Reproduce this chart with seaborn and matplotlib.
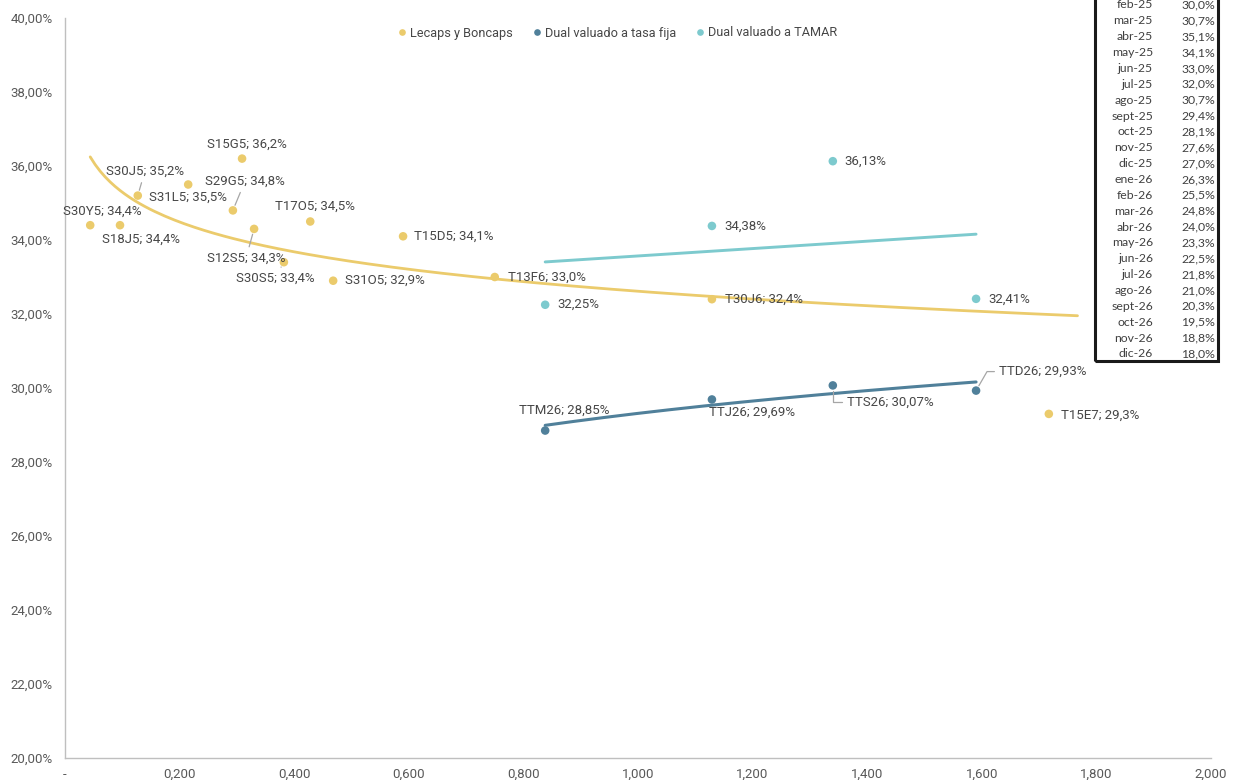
import numpy as np
import pandas as pd
import matplotlib
matplotlib.use("Agg")
import matplotlib.pyplot as plt
from matplotlib import font_manager
from matplotlib.patches import Rectangle
import seaborn as sns

# --- data -------------------------------------------------------------------
lecaps_names = ["S30Y5", "S18J5", "S30J5", "S31L5", "S15G5", "S29G5", "S12S5",
                "T17O5", "S30S5", "S31O5", "T15D5", "T13F6", "T30J6", "T15E7"]
lecaps_dur = [0.044, 0.096, 0.127, 0.215, 0.309, 0.293, 0.330,
              0.428, 0.382, 0.468, 0.590, 0.750, 1.129, 1.717]
lecaps_tir = [34.4, 34.4, 35.2, 35.5, 36.2, 34.8, 34.3,
              34.5, 33.4, 32.9, 34.1, 33.0, 32.4, 29.3]

dual_names = ["TTM26", "TTJ26", "TTS26", "TTD26"]
dual_dur = [0.838, 1.129, 1.340, 1.590]
dual_fija = [28.85, 29.69, 30.07, 29.93]
dual_tamar = [32.25, 34.38, 36.13, 32.41]

series_names = ["Lecaps y Boncaps", "Dual valuado a tasa fija", "Dual valuado a TAMAR"]

table_months = ["feb-25", "mar-25", "abr-25", "may-25", "jun-25", "jul-25", "ago-25",
                "sept-25", "oct-25", "nov-25", "dic-25", "ene-26", "feb-26", "mar-26",
                "abr-26", "may-26", "jun-26", "jul-26", "ago-26", "sept-26", "oct-26",
                "nov-26", "dic-26"]
table_rates = [30.0, 30.7, 35.1, 34.1, 33.0, 32.0, 30.7, 29.4, 28.1, 27.6, 27.0, 26.3,
               25.5, 24.8, 24.0, 23.3, 22.5, 21.8, 21.0, 20.3, 19.5, 18.8, 18.0]

y_ticks = [20, 22, 24, 26, 28, 30, 32, 34, 36, 38, 40]
x_ticks = [0.0, 0.2, 0.4, 0.6, 0.8, 1.0, 1.2, 1.4, 1.6, 1.8, 2.0]

# --- styling ----------------------------------------------------------------
YELLOW = "#EBCB6C"
DARK = "#50809A"
CYAN = "#7DCACE"
TEXT = "#595959"
LABEL = "#474747"
palette = dict(zip(series_names, [YELLOW, DARK, CYAN]))

sns.set_theme(style="white")
installed = {f.name for f in font_manager.fontManager.ttflist}
label_font = ["Roboto", "DejaVu Sans"]
narrow_font = ["Liberation Sans Narrow", "Roboto", "DejaVu Sans"]
narrow_font = [f for f in narrow_font if f in installed] or ["DejaVu Sans"]
table_font = ["Lato", "DejaVu Sans"]
plt.rcParams["font.family"] = label_font

def fmt_pct(v, decimals):
    return f"{v:.{decimals}f}%".replace(".", ",")

points = pd.DataFrame({
    "dur": lecaps_dur + dual_dur + dual_dur,
    "tir": lecaps_tir + dual_fija + dual_tamar,
    "serie": [series_names[0]] * len(lecaps_dur)
             + [series_names[1]] * len(dual_dur)
             + [series_names[2]] * len(dual_dur),
})

# trend lines: logarithmic for Lecaps and fixed-rate dual, linear for TAMAR
def log_trend(x, y, x_end):
    b, a = np.polyfit(np.log(x), y, 1)
    xs = np.linspace(min(x), x_end, 200)
    return xs, a + b * np.log(xs)

def lin_trend(x, y):
    b, a = np.polyfit(x, y, 1)
    xs = np.linspace(min(x), max(x), 50)
    return xs, a + b * xs

tx1, ty1 = log_trend(np.array(lecaps_dur), np.array(lecaps_tir), max(lecaps_dur) + 0.05)
tx2, ty2 = log_trend(np.array(dual_dur), np.array(dual_fija), max(dual_dur))
tx3, ty3 = lin_trend(np.array(dual_dur), np.array(dual_tamar))

fig = plt.figure(figsize=(12.35, 7.8), dpi=100)
ax = fig.add_axes([65 / 1235, 22 / 780, (1211 - 65) / 1235, (758 - 18) / 780])

sns.lineplot(x=tx1, y=ty1, ax=ax, color=YELLOW, lw=2.0, legend=False)
sns.lineplot(x=tx2, y=ty2, ax=ax, color=DARK, lw=2.2, legend=False)
sns.lineplot(x=tx3, y=ty3, ax=ax, color=CYAN, lw=2.1, legend=False)
sns.scatterplot(data=points, x="dur", y="tir", hue="serie", palette=palette,
                s=38, edgecolor="none", ax=ax, legend=False, zorder=3)

ax.set_xlim(0, 2)
ax.set_ylim(20, 40)
ax.set_xlabel("")
ax.set_ylabel("")
ax.set_xticks(x_ticks)
ax.set_xticklabels(["-" if v == 0 else f"{v:.3f}".replace(".", ",") for v in x_ticks],
                   family=narrow_font, fontsize=9.5, color=TEXT)
ax.set_yticks(y_ticks)
ax.set_yticklabels([fmt_pct(v, 2) for v in y_ticks], fontsize=9.5, color=TEXT)
ax.tick_params(axis="both", length=0)
ax.tick_params(axis="y", pad=9)
ax.tick_params(axis="x", pad=7)
for side in ["top", "right"]:
    ax.spines[side].set_visible(False)
for side in ["left", "bottom"]:
    ax.spines[side].set_color("#BFBFBF")
    ax.spines[side].set_linewidth(1.0)

# --- data labels ------------------------------------------------------------
LEAD = dict(arrowstyle="-", color="#A6A6A6", lw=0.9, shrinkA=1, shrinkB=4)

# (ha, dx, dy, leader) in pixels, dy measured downward
lecaps_place = {
    "S30Y5": ("center", 12, -14, None),
    "S18J5": ("center", 21, 14, None),
    "S30J5": ("center", 7, -24, "arc3"),
    "S31L5": ("center", 0, 13, None),
    "S15G5": ("center", 5, -14, None),
    "S29G5": ("center", 12, -29, "arc3"),
    "S12S5": ("center", -8, 29, "arc3"),
    "T17O5": ("center", 5, -15, None),
    "S30S5": ("center", -9, 16, "arc3"),
    "S31O5": ("left", 12, 0, None),
    "T15D5": ("left", 11, 0, None),
    "T13F6": ("left", 13, 0, None),
    "T30J6": ("left", 13, 0, None),
    "T15E7": ("left", 12, 1, None),
}
fija_place = {
    "TTM26": ("center", 19, -20, None),
    "TTJ26": ("left", -3, 13, None),
    "TTS26": ("left", 14, 17, "angle,angleA=0,angleB=90,rad=0"),
    "TTD26": ("left", 23, -19, "angle,angleA=0,angleB=60,rad=0"),
}

def put_label(text, x, y, place):
    ha, dx, dy, conn = place
    kw = {}
    if conn is not None:
        kw["arrowprops"] = dict(LEAD, connectionstyle=conn)
    ax.annotate(text, (x, y), xytext=(dx, -dy), textcoords="offset pixels",
                ha=ha, va="center", fontsize=9.5, color=LABEL, zorder=4, **kw)

for n, x, y in zip(lecaps_names, lecaps_dur, lecaps_tir):
    put_label(f"{n}; {fmt_pct(y, 1)}", x, y, lecaps_place[n])
for n, x, y in zip(dual_names, dual_dur, dual_fija):
    put_label(f"{n}; {fmt_pct(y, 2)}", x, y, fija_place[n])
for x, y in zip(dual_dur, dual_tamar):
    put_label(fmt_pct(y, 2), x, y, ("left", 12, 0, None))

# --- legend -----------------------------------------------------------------
handles = [plt.Line2D([], [], ls="", marker="o", markersize=4.8,
                      markerfacecolor=palette[n], markeredgecolor="none")
           for n in series_names]
leg = fig.legend(handles, series_names, loc="center", ncol=3, frameon=False,
                 bbox_to_anchor=(617 / 1235, 1 - 33 / 780), fontsize=9.2,
                 handlelength=0.8, handletextpad=0.2, columnspacing=1.5,
                 borderaxespad=0)
for t in leg.get_texts():
    t.set_color(LABEL)

# --- rate table -------------------------------------------------------------
W, H = 1235, 780
row0, row_step = 5, 15.86
for i, (m, r) in enumerate(zip(table_months, table_rates)):
    yy = 1 - (row0 + i * row_step) / H
    fig.text(1153 / W, yy, m, ha="right", va="center", fontsize=8.8,
             family=table_font, color="#404040")
    fig.text(1215 / W, yy, fmt_pct(r, 1), ha="right", va="center", fontsize=8.8,
             family=table_font, color="#404040")
fig.patches.append(Rectangle((1095 / W, 1 - 361 / H), (1218 - 1095) / W, 380 / H,
                             transform=fig.transFigure, fill=False,
                             edgecolor="#1a1a1a", lw=2.2, clip_on=False))

fig.savefig("out.png", dpi=100)
